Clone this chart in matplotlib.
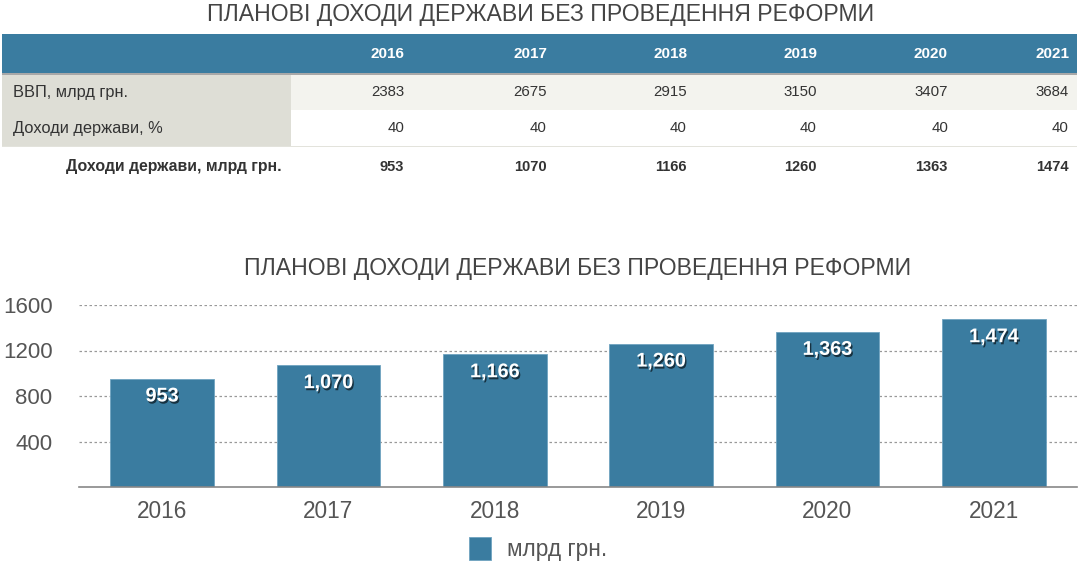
import matplotlib
matplotlib.use("Agg")
import matplotlib.pyplot as plt
import matplotlib.patheffects as pe
from matplotlib.patches import Rectangle

plt.rcParams['font.family'] = ['Liberation Sans', 'DejaVu Sans']

# ---- data ----
title = "ПЛАНОВІ ДОХОДИ ДЕРЖАВИ БЕЗ ПРОВЕДЕННЯ РЕФОРМИ"
years = ["2016", "2017", "2018", "2019", "2020", "2021"]
gdp = [2383, 2675, 2915, 3150, 3407, 3684]
pct = [40, 40, 40, 40, 40, 40]
revenue = [953, 1070, 1166, 1260, 1363, 1474]
row_labels = ["ВВП, млрд грн.", "Доходи держави, %", "Доходи держави, млрд грн."]
series_name = "млрд грн."
yticks = [400, 800, 1200, 1600]

BLUE = "#3A7CA0"
TXT = "#444444"

W, H = 1081, 565
fig = plt.figure(figsize=(W / 100, H / 100), dpi=100)

# overlay axes in pixel coordinates for the table
ax0 = fig.add_axes([0, 0, 1, 1])
ax0.set_xlim(0, W)
ax0.set_ylim(H, 0)
ax0.axis("off")

ax0.text(541, 14, title, ha="center", va="center", fontsize=16.6, color=TXT)

# table backgrounds
ax0.add_patch(Rectangle((2, 34), 1075, 39, color=BLUE, lw=0))
ax0.add_patch(Rectangle((2, 73), 1075, 1.5, color="#A8A8A8", lw=0))
ax0.add_patch(Rectangle((2, 74.5), 289, 71, color="#DEDED6", lw=0))
ax0.add_patch(Rectangle((291, 74.5), 786, 35, color="#F3F3EE", lw=0))
ax0.add_patch(Rectangle((2, 145.5), 1075, 1.5, color="#E3E3DC", lw=0))

col_right = [404, 547, 687, 817, 948, 1069]
for x, yr, g, p, r in zip(col_right, years, gdp, pct, revenue):
    ax0.text(x, 54, yr, ha="right", va="center", fontsize=11, color="white", fontweight="bold")
    ax0.text(x, 92, str(g), ha="right", va="center", fontsize=10.8, color="#333333")
    ax0.text(x, 128, str(p), ha="right", va="center", fontsize=10.8, color="#333333")
    ax0.text(x, 167, str(r), ha="right", va="center", fontsize=10.5, color="#333333", fontweight="bold")

ax0.text(13, 92, row_labels[0], ha="left", va="center", fontsize=11.8, color="#333333")
ax0.text(13, 128, row_labels[1], ha="left", va="center", fontsize=11.8, color="#333333")
ax0.text(282, 167, row_labels[2], ha="right", va="center", fontsize=11.4, color="#333333", fontweight="bold")

ax0.text(578, 268, title, ha="center", va="center", fontsize=16.6, color=TXT)

# ---- chart ----
left, right, base, top = 79, 1077, 487, 305
ax = fig.add_axes([left / W, 1 - base / H, (right - left) / W, (base - top) / H])
ax.patch.set_alpha(0)
x = list(range(len(years)))
bars = ax.bar(x, revenue, width=0.625, color=BLUE, edgecolor="#6FA3C0", linewidth=0.6,
              label=series_name, zorder=3)
ax.set_xlim(-0.5, len(years) - 0.5)
ax.set_ylim(0, 1600)
ax.set_yticks(yticks)
ax.set_yticklabels([str(v) for v in yticks])
ax.set_xticks(x)
ax.set_xticklabels(years)
ax.tick_params(axis="y", length=0, pad=19, labelsize=16, labelcolor="#555555")
ax.tick_params(axis="x", length=0, pad=9, labelsize=16.3, labelcolor="#555555")
for s in ["top", "right", "left"]:
    ax.spines[s].set_visible(False)
ax.spines["bottom"].set_color("#888888")
ax.spines["bottom"].set_linewidth(1.2)
ax.spines["bottom"].set_zorder(4)
for v in yticks:
    ax.axhline(v, color="#999999", lw=0.9, ls=(0, (2, 2)), zorder=1)

shadow = [pe.withSimplePatchShadow(offset=(1, -1.5), shadow_rgbFace="black", alpha=0.6)]
for xi, v in zip(x, revenue):
    t = ax.annotate(f"{v:,}", (xi, v), xytext=(0, -12.5), textcoords="offset points",
                    ha="center", va="center", fontsize=14.3, fontweight="bold", color="white",
                    zorder=5)
    t.set_path_effects(shadow)

fig.legend(handles=[bars], labels=[series_name], loc="center",
           bbox_to_anchor=(538 / W, 1 - 549 / H), frameon=False,
           handlelength=1.0, handleheight=1.2, handletextpad=0.7,
           prop={"size": 16.3}, labelcolor="#555555")

fig.savefig("out.png", dpi=100)
